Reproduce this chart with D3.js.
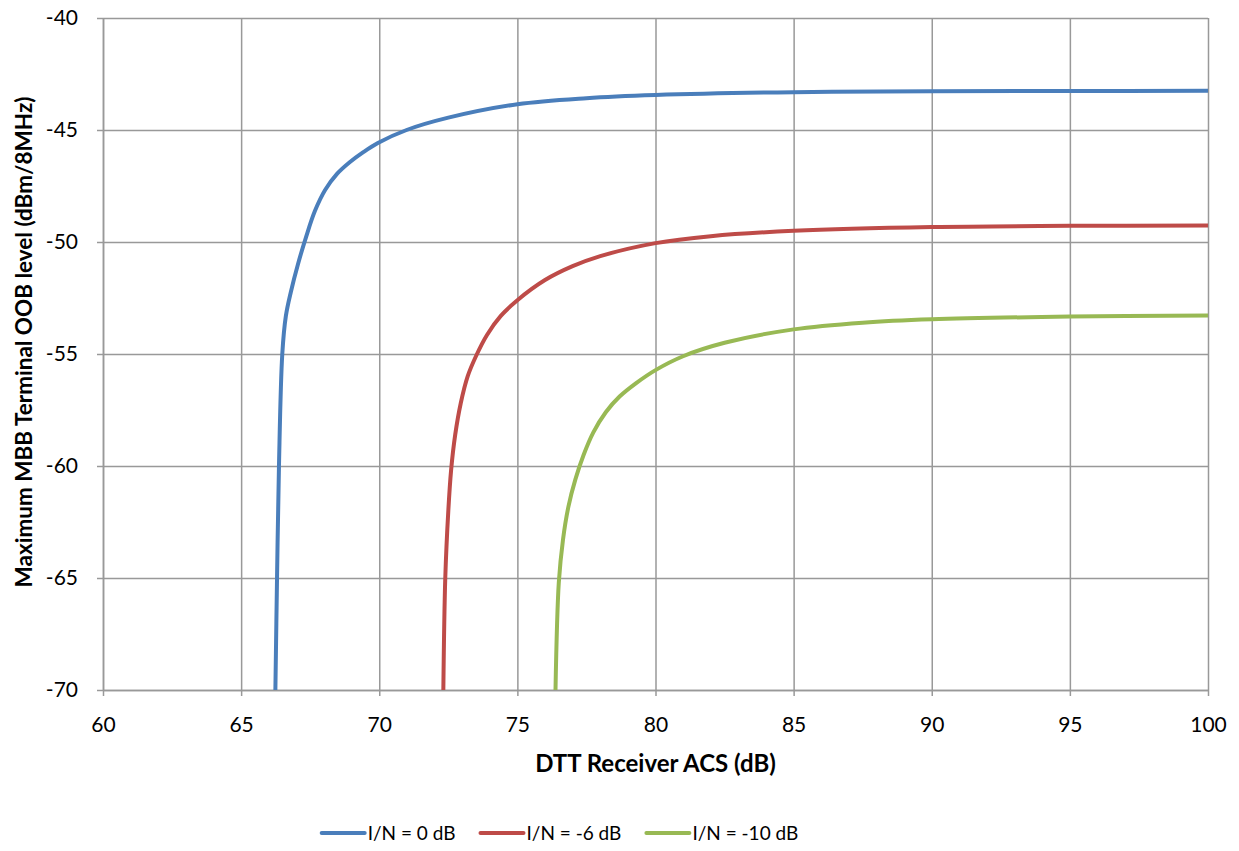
<!DOCTYPE html>
<html>
<head>
<meta charset="utf-8">
<script src="https://cdn.jsdelivr.net/npm/d3@7"></script>
<style>
  body { margin: 0; background: #fff; }
  svg { display: block; font-family: Lato, "Open Sans", sans-serif; }
</style>
</head>
<body>
<div id="chart"></div>
<script>
// values: [ACS dB, max OOB level dBm/8MHz]
const seriesNames = ['I/N = 0 dB', 'I/N = -6 dB', 'I/N = -10 dB'];
const seriesColors = ['#4a7ebb', '#be4b48', '#98b954'];

const inZero = [
    [66.24, -70], [66.3, -65], [66.37, -60], [66.49, -55], [66.62, -53.3],
    [66.8, -52.23], [67.06, -50.98], [67.35, -49.78], [67.67, -48.62], [68.04, -47.68],
    [68.47, -46.96], [68.94, -46.43], [69.41, -46.0], [69.95, -45.58], [70.99, -45.0],
    [72.5, -44.45], [75, -43.85], [77.5, -43.58], [80, -43.44], [85, -43.31],
    [90, -43.27], [95, -43.26], [100, -43.25]
];
const inMinus6 = [
    [72.32, -70], [72.39, -65], [72.5, -62], [72.6, -60.2], [72.75, -58.6],
    [72.95, -57.2], [73.2, -56.0], [73.5, -55.1], [73.9, -54.15], [74.4, -53.3],
    [75, -52.6], [76, -51.7], [77, -51.08], [78, -50.63], [80, -50.05],
    [82, -49.74], [85, -49.5], [90, -49.33], [95, -49.28], [100, -49.26]
];
const inMinus10 = [
    [76.38, -70], [76.5, -65.2], [76.65, -63.3], [76.85, -61.8], [77.1, -60.6],
    [77.4, -59.5], [77.75, -58.5], [78.2, -57.6], [78.7, -56.9], [79.3, -56.3],
    [80, -55.72], [81, -55.1], [82.5, -54.5], [85, -53.9], [87.5, -53.6],
    [90, -53.45], [95, -53.33], [100, -53.28]
];

const acsTicks = [60, 65, 70, 75, 80, 85, 90, 95, 100];
const levelTicks = [-40, -45, -50, -55, -60, -65, -70];

const series = [inZero, inMinus6, inMinus10];

const W = 1239, H = 851;
const margin = { top: 18, right: 31, bottom: 161, left: 103 };
const width = W - margin.left - margin.right;
const height = H - margin.top - margin.bottom;
const gridColor = '#999';

const svg = d3.select('#chart')
    .append('svg')
    .attr('width', W)
    .attr('height', H);

const g = svg.append('g')
    .attr('transform', `translate(${margin.left},${margin.top})`);

const x = d3.scaleLinear().domain([60, 100]).range([0, width]);
const y = d3.scaleLinear().domain([-70, -40]).range([height, 0]);

// gridlines
g.append('g')
    .attr('class', 'grid')
    .call(d3.axisLeft(y).tickValues(levelTicks).tickSize(-width).tickFormat(''))
    .call((s) => s.select('.domain').remove());
g.append('g')
    .attr('class', 'grid')
    .attr('transform', `translate(0,${height})`)
    .call(d3.axisBottom(x).tickValues(acsTicks).tickSize(-height).tickFormat(''))
    .call((s) => s.select('.domain').remove());
g.selectAll('.grid line')
    .attr('stroke', gridColor)
    .attr('stroke-width', 1.5);

// axes (plain hyphen for negatives, like the original)
const yAxis = g.append('g')
    .call(d3.axisLeft(y).tickValues(levelTicks).tickSize(6).tickSizeOuter(0)
        .tickPadding(19).tickFormat((d) => String(d)));
const xAxis = g.append('g')
    .attr('transform', `translate(0,${height})`)
    .call(d3.axisBottom(x).tickValues(acsTicks).tickSize(6).tickSizeOuter(0)
        .tickPadding(21).tickFormat((d) => String(d)));

[yAxis, xAxis].forEach((a) => {
    a.select('.domain').attr('stroke', gridColor).attr('stroke-width', 1.5);
    a.selectAll('.tick line').attr('stroke', gridColor).attr('stroke-width', 1.5);
    a.selectAll('.tick text')
        .attr('fill', '#000')
        .style('font-family', 'Lato, sans-serif')
        .style('font-size', '21px');
});

// curves (smoothed like the spreadsheet original)
const line = d3.line()
    .x((d) => x(d[0]))
    .y((d) => y(d[1]))
    .curve(d3.curveCatmullRom.alpha(0.5));

series.forEach((data, i) => {
    g.append('path')
        .datum(data)
        .attr('fill', 'none')
        .attr('stroke', seriesColors[i])
        .attr('stroke-width', 4)
        .attr('d', line);
});

// axis titles
svg.append('text')
    .attr('x', margin.left + width / 2)
    .attr('y', 772)
    .attr('text-anchor', 'middle')
    .style('font-size', '24px')
    .style('font-weight', 'bold')
    .text('DTT Receiver ACS (dB)');

svg.append('text')
    .attr('transform', 'translate(32,342) rotate(-90)')
    .attr('text-anchor', 'middle')
    .style('font-size', '22.5px')
    .style('font-weight', 'bold')
    .text('Maximum MBB Terminal OOB level (dBm/8MHz)');

// legend
const legend = svg.append('g');
let lx = 0;
seriesNames.forEach((name, i) => {
    const item = legend.append('g').attr('transform', `translate(${lx},0)`);
    item.append('line')
        .attr('x1', 0).attr('x2', 43)
        .attr('y1', 0).attr('y2', 0)
        .attr('stroke', seriesColors[i])
        .attr('stroke-width', 4)
        .attr('stroke-linecap', 'round');
    const t = item.append('text')
        .attr('x', 46)
        .attr('y', 7)
        .style('font-size', '19px')
        .text(name);
    lx += 46 + t.node().getComputedTextLength() + 25;
});
lx -= 25;
legend.attr('transform', `translate(${560 - lx / 2},833)`);
</script>
</body>
</html>
